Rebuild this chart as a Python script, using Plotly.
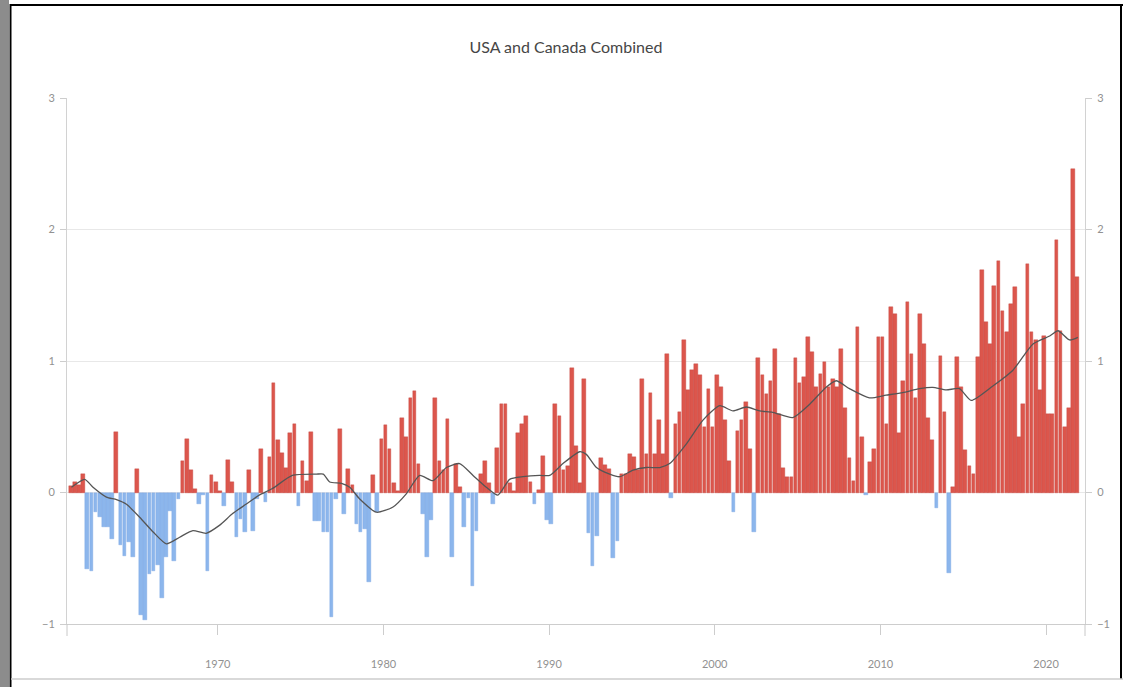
import plotly.graph_objects as go

# Seasonal (quarterly) temperature anomalies, one list per decade
start_year = 1961
anom_1960s = [
    0.05, 0.08, 0.06, 0.14,
    -0.58, -0.6, -0.15, -0.19,
    -0.26, -0.26, -0.35, 0.46,
    -0.4, -0.48, -0.38, -0.49,
    0.18, -0.93, -0.97, -0.62,
    -0.6, -0.55, -0.8, -0.49,
    -0.14, -0.52, -0.05, 0.24,
    0.41, 0.17, 0.03, -0.09,
    -0.02, -0.6, 0.13, 0.08,
]
anom_1970s = [
    0.01, -0.1, 0.25, 0.08,
    -0.34, -0.2, -0.3, 0.17,
    -0.29, -0.05, 0.33, -0.07,
    0.27, 0.83, 0.4, 0.3,
    0.19, 0.45, 0.52, -0.1,
    0.24, 0.09, 0.46, -0.22,
    -0.22, -0.3, -0.3, -0.95,
    -0.05, 0.48, -0.16, 0.18,
    0.06, -0.24, -0.3, -0.28,
    -0.68, 0.13, -0.15, 0.41,
]
anom_1980s = [
    0.51, 0.33, 0.07, 0.01,
    0.57, 0.42, 0.72, 0.77,
    0.22, -0.16, -0.49, -0.21,
    0.72, 0.24, 0.17, 0.56,
    -0.49, 0.22, 0.04, -0.26,
    -0.04, -0.71, -0.29, 0.14,
    0.24, 0.07, -0.09, 0.34,
    0.67, 0.67, 0.07, 0.01,
    0.45, 0.52, 0.58, 0.08,
    -0.09, 0.02, 0.28, -0.21,
]
anom_1990s = [
    -0.24, 0.67, 0.58, 0.17,
    0.2, 0.95, 0.35, 0.07,
    0.86, -0.31, -0.56, -0.33,
    0.26, 0.21, 0.18, -0.5,
    -0.37, 0.14, 0.14, 0.29,
    0.27, 0.17, 0.86, 0.29,
    0.76, 0.29, 0.55, 0.29,
    1.05, -0.04, 0.52, 0.61,
    1.16, 0.78, 0.93, 0.98,
    0.89, 0.5, 0.79, 0.5,
]
anom_2000s = [
    0.89, 0.8, 0.55, 0.24,
    -0.15, 0.47, 0.55, 0.69,
    0.33, -0.3, 1.02, 0.89,
    0.75, 0.85, 1.09, 0.6,
    0.19, 0.12, 0.12, 1.02,
    0.83, 0.88, 1.18, 1.07,
    0.8, 0.9, 0.99, 0.8,
    0.86, 0.8, 1.09, 0.64,
    0.26, 0.09, 1.26, 0.42,
    -0.02, 0.23, 0.33, 1.18,
]
anom_2010s = [
    1.18, 0.52, 1.41, 1.36,
    0.45, 0.85, 1.45, 1.05,
    0.72, 1.36, 1.13, 0.57,
    0.4, -0.12, 1.04, 0.61,
    -0.61, 0.04, 1.03, 0.8,
    0.32, 0.2, 0.14, 1.03,
    1.69, 1.3, 1.13, 1.57,
    1.76, 1.38, 1.22, 1.43,
    1.56, 0.42, 0.67, 1.74,
    1.22, 1.16, 0.78, 1.19,
]
anom_2020s = [
    0.6, 0.6, 1.92, 1.23,
    0.5, 0.64, 2.46, 1.64,
]

# Smoothed running mean
trend_years = [
    1961.17, 1961.97, 1962.47, 1963.28, 1963.89, 1964.49, 1965.3, 1966.1,
    1966.9, 1967.7, 1968.5, 1969.3, 1970.1, 1970.9, 1971.7, 1972.5,
    1973.3, 1974.5, 1975.96, 1976.37, 1976.76, 1977.47, 1977.97, 1978.57,
    1979.58, 1980.58, 1981.38, 1982.19, 1982.99, 1983.8, 1984.6, 1985.41,
    1986.21, 1986.91, 1987.62, 1988.42, 1989.43, 1990.04, 1990.84, 1991.85,
    1992.25, 1992.86, 1993.66, 1994.26, 1995.07, 1995.87, 1996.68, 1997.28,
    1998.29, 1999.29, 2000.3, 2001.1, 2001.91, 2002.71, 2003.5, 2004.71,
    2005.72, 2006.72, 2007.33, 2008.13, 2009.34, 2010.34, 2011.35, 2012.36,
    2013.16, 2013.97, 2014.77, 2015.48, 2016.79, 2018.0, 2019.21, 2020.22,
    2020.72, 2021.42, 2021.92,
]
trend_values = [
    0.04, 0.10, 0.04, -0.035, -0.055, -0.09, -0.19, -0.3,
    -0.39, -0.34, -0.29, -0.31, -0.25, -0.16, -0.09, -0.02,
    0.03, 0.13, 0.14, 0.14, 0.08, 0.07, 0.04, -0.05,
    -0.15, -0.11, -0.01, 0.13, 0.09, 0.19, 0.22, 0.13,
    0.04, -0.02, 0.1, 0.12, 0.13, 0.13, 0.22, 0.31,
    0.29, 0.19, 0.14, 0.12, 0.17, 0.19, 0.19, 0.22,
    0.37, 0.55, 0.66, 0.62, 0.65, 0.62, 0.61, 0.57,
    0.67, 0.8, 0.85, 0.79, 0.72, 0.74, 0.76, 0.79,
    0.8, 0.78, 0.79, 0.7, 0.81, 0.93, 1.13, 1.19,
    1.23, 1.16, 1.18,
]

y_ticks = [-1, 0, 1, 2, 3]
x_ticks = [1970, 1980, 1990, 2000, 2010, 2020]

anomalies = anom_1960s + anom_1970s + anom_1980s + anom_1990s + anom_2000s + anom_2010s + anom_2020s
quarter_x = [start_year + (i + 0.5) / 4 for i in range(len(anomalies))]

RED = "rgb(220,86,76)"
RED_EDGE = "rgb(194,74,66)"
BLUE = "rgb(140,182,236)"
BLUE_EDGE = "rgb(124,166,226)"

fig = go.Figure()
fig.add_trace(go.Bar(
    x=quarter_x,
    y=anomalies,
    width=0.25 * 0.88,
    marker=dict(
        color=[RED if v >= 0 else BLUE for v in anomalies],
        line=dict(color=[RED_EDGE if v >= 0 else BLUE_EDGE for v in anomalies], width=0.4),
    ),
    hoverinfo="x+y",
    showlegend=False,
))
fig.add_trace(go.Scatter(
    x=trend_years,
    y=trend_values,
    mode="lines",
    line=dict(color="rgb(85,85,85)", width=1.3, shape="spline", smoothing=0.6),
    showlegend=False,
))
# invisible trace so the right-hand axis is drawn
fig.add_trace(go.Scatter(x=[x_ticks[0]], y=[0], yaxis="y2", mode="markers",
                         marker=dict(opacity=0), showlegend=False, hoverinfo="skip"))

# plot area in pixels: left 67, right 1085, top 98, bottom 624
W, H = 1123, 687
L, R, T, B = 67, 1085, 98, 624


def px(xp):
    return (xp - L) / (R - L)


def py(yp):
    return (B - yp) / (B - T)


frame = [
    dict(type="rect", xref="paper", yref="paper", x0=px(0), x1=px(9), y0=py(W), y1=py(0),
         fillcolor="rgb(140,140,140)", line=dict(width=0), layer="above"),
    dict(type="line", xref="paper", yref="paper", x0=px(10.5), x1=px(10.5), y0=py(687), y1=py(4),
         line=dict(color="black", width=2)),
    dict(type="line", xref="paper", yref="paper", x0=px(10), x1=px(1123), y0=py(5), y1=py(5),
         line=dict(color="black", width=2)),
    dict(type="line", xref="paper", yref="paper", x0=px(1121), x1=px(1121), y0=py(5), y1=py(679),
         line=dict(color="black", width=2)),
    dict(type="line", xref="paper", yref="paper", x0=px(11), x1=px(1123), y0=py(679), y1=py(679),
         line=dict(color="rgb(205,205,205)", width=1.5)),
    # axis end ticks below the x axis
    dict(type="line", xref="paper", yref="paper", x0=0, x1=0, y0=py(636), y1=0,
         line=dict(color="rgb(200,200,200)", width=1)),
    dict(type="line", xref="paper", yref="paper", x0=1, x1=1, y0=py(636), y1=0,
         line=dict(color="rgb(200,200,200)", width=1)),
]

tick_font = dict(family="Lato, sans-serif", size=11, color="rgb(145,145,145)")

fig.update_layout(
    width=W, height=H,
    margin=dict(l=L, r=W - R, t=T, b=H - B),
    paper_bgcolor="white",
    plot_bgcolor="white",
    bargap=0,
    title=dict(text="USA and Canada Combined", x=px(580), xanchor="center",
               y=1 - 47 / H, yanchor="middle",
               font=dict(family="Lato, sans-serif", size=16, color="rgb(70,70,70)")),
    xaxis=dict(
        range=[1960.9, 2022.35],
        tickvals=x_ticks,
        ticks="outside", ticklen=10, tickcolor="rgb(205,205,205)",
        ticklabelstandoff=20,
        showgrid=False, zeroline=False,
        showline=True, linecolor="rgb(205,205,205)", linewidth=1,
        tickfont=tick_font,
    ),
    yaxis=dict(
        range=[-1, 3],
        tickvals=y_ticks,
        ticks="outside", ticklen=6, tickcolor="rgb(205,205,205)",
        ticklabelstandoff=3,
        showgrid=True, gridcolor="rgb(232,232,232)", gridwidth=1,
        zeroline=True, zerolinecolor="rgb(232,232,232)", zerolinewidth=1,
        showline=True, linecolor="rgb(210,210,210)", linewidth=1,
        tickfont=tick_font,
    ),
    yaxis2=dict(
        range=[-1, 3],
        tickvals=y_ticks,
        overlaying="y", side="right",
        ticks="outside", ticklen=6, tickcolor="rgb(205,205,205)",
        ticklabelstandoff=3,
        showgrid=False, zeroline=False,
        showline=True, linecolor="rgb(210,210,210)", linewidth=1,
        tickfont=tick_font,
    ),
    shapes=frame,
)

fig.write_html("out.html")
